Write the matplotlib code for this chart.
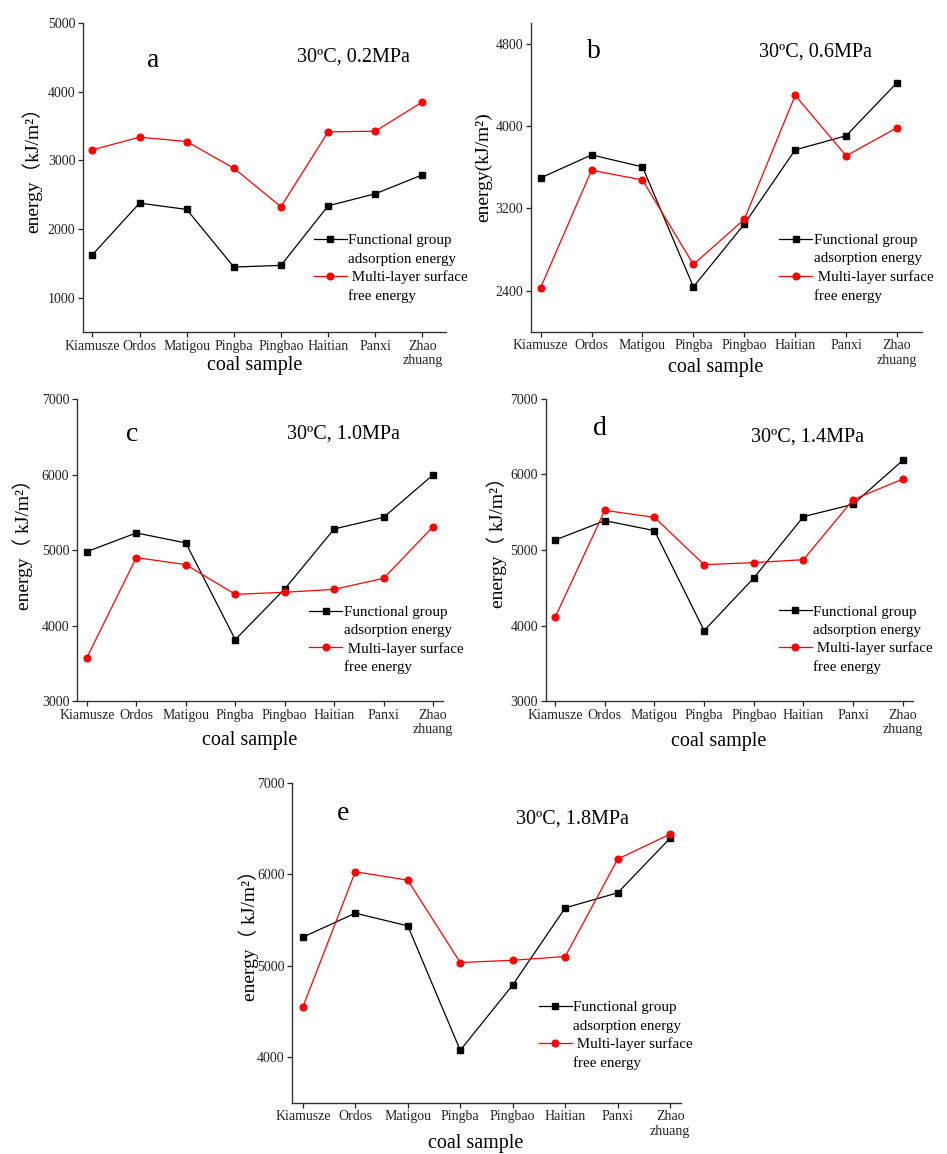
import matplotlib.pyplot as plt
from matplotlib.lines import Line2D

plt.rcParams['font.family'] = ['Liberation Serif', 'Noto Sans CJK SC']

samples = ['Kiamusze', 'Ordos', 'Matigou', 'Pingba', 'Pingbao', 'Haitian', 'Panxi', 'Zhao\nzhuang']

# functional group adsorption energy / multi-layer surface free energy
fg_02 = [1625, 2377, 2285, 1446, 1470, 2338, 2513, 2789]
mf_02 = [3153, 3337, 3274, 2886, 2324, 3415, 3424, 3851]
fg_06 = [3496, 3720, 3603, 2436, 3047, 3769, 3906, 4423]
mf_06 = [2429, 3571, 3476, 2654, 3093, 4299, 3711, 3984]
fg_10 = [4982, 5230, 5097, 3817, 4488, 5283, 5437, 6000]
mf_10 = [3578, 4903, 4810, 4417, 4444, 4483, 4629, 5313]
fg_14 = [5132, 5388, 5256, 3934, 4630, 5441, 5604, 6185]
mf_14 = [4110, 5524, 5432, 4806, 4833, 4872, 5665, 5938]
fg_18 = [5310, 5573, 5434, 4073, 4788, 5631, 5796, 6394]
mf_18 = [4544, 6026, 5934, 5033, 5058, 5099, 6164, 6438]

letters = ['a', 'b', 'c', 'd', 'e']
conditions = ['30ºC, 0.2MPa', '30ºC, 0.6MPa', '30ºC, 1.0MPa', '30ºC, 1.4MPa', '30ºC, 1.8MPa']
ylabels = ['energy（kJ/m²）', 'energy(kJ/m²)', 'energy（ kJ/m²）', 'energy（ kJ/m²）', 'energy（ kJ/m²）']
yticks = [[1000, 2000, 3000, 4000, 5000], [2400, 3200, 4000, 4800],
          [3000, 4000, 5000, 6000, 7000], [3000, 4000, 5000, 6000, 7000],
          [4000, 5000, 6000, 7000]]
ylims = [(500, 5000), (2000, 5000), (3000, 7000), (3000, 7000), (3500, 7000)]
fg_all = [fg_02, fg_06, fg_10, fg_14, fg_18]
mf_all = [mf_02, mf_06, mf_10, mf_14, mf_18]

W, H = 947, 1154
# axes boxes in pixels: left, right, top, bottom
boxes = [(83, 446, 23, 332), (531, 922, 23.3, 331.7), (77, 443, 399.3, 701.3),
         (545.7, 912.7, 398.7, 701.3), (292.3, 680.7, 782.7, 1102.7)]
xlims = [(-0.2, 7.5), (-0.19, 7.49), (-0.2, 7.2), (-0.19, 7.2), (-0.2, 7.2)]
letter_pos = [(0.193, 0.88), (0.161, 0.907), (0.15, 0.882), (0.148, 0.902), (0.131, 0.904)]
cond_pos = [(0.59, 0.89), (0.584, 0.907), (0.574, 0.886), (0.559, 0.874), (0.575, 0.887)]
xlab_pos = [(0.473, -0.078), (0.473, -0.085), (0.472, -0.1), (0.47, -0.1), (0.472, -0.098)]
ylab_pos = [(-0.113, 0.54), (-0.098, 0.535), (-0.119, 0.534), (-0.105, 0.541), (-0.085, 0.5375)]

fig = plt.figure(figsize=(W / 100, H / 100), dpi=100)

for i in range(5):
    l, r, t, b = boxes[i]
    ax = fig.add_axes([l / W, 1 - b / H, (r - l) / W, (b - t) / H])
    x = list(range(len(samples)))
    ax.plot(x, fg_all[i], color='black', lw=0.9, marker='s', ms=4.5)
    ax.plot(x, mf_all[i], color='red', lw=0.9, marker='o', ms=4.8)
    ax.set_xlim(*xlims[i])
    ax.set_ylim(*ylims[i])
    ax.set_xticks(x)
    ax.set_xticklabels(samples, fontsize=10, linespacing=1.15)
    ax.set_yticks(yticks[i])
    ax.tick_params(labelsize=10, length=3.5, width=0.9, pad=2, colors='#222222')
    for s in ['top', 'right']:
        ax.spines[s].set_visible(False)
    for s in ['left', 'bottom']:
        ax.spines[s].set_linewidth(1.0)
        ax.spines[s].set_color('#333333')
    ax.set_xlabel('coal sample', fontsize=14.5)
    ax.xaxis.set_label_coords(*xlab_pos[i])
    ax.set_ylabel(ylabels[i], fontsize=14)
    ax.yaxis.set_label_coords(*ylab_pos[i])
    ax.text(letter_pos[i][0], letter_pos[i][1], letters[i], transform=ax.transAxes,
            fontsize=20, ha='center', va='center')
    ax.text(cond_pos[i][0], cond_pos[i][1], conditions[i], transform=ax.transAxes,
            fontsize=14.5, ha='left', va='center')
    blank = Line2D([], [], color='none')
    h_fg = Line2D([], [], color='black', lw=0.9, marker='s', ms=4.5)
    h_mf = Line2D([], [], color='red', lw=0.9, marker='o', ms=4.8)
    ax.legend([h_fg, blank, h_mf, blank],
              ['Functional group', 'adsorption energy', ' Multi-layer surface', 'free energy'],
              loc='upper left', bbox_to_anchor=(0.635, 0.318), frameon=False, borderpad=0,
              fontsize=10.8, handlelength=2.2, handletextpad=0.1, labelspacing=0.32,
              borderaxespad=0)

fig.savefig('out.png', dpi=100)
